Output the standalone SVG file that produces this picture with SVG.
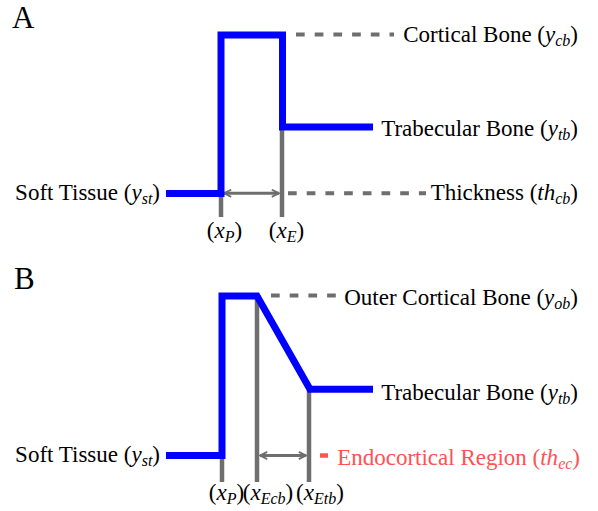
<svg xmlns="http://www.w3.org/2000/svg" width="598" height="511" viewBox="0 0 598 511">
<style>
text{font-family:"Liberation Serif","Times New Roman",serif;font-size:23px;fill:#000}
.i{font-style:italic}
.s{font-style:italic;font-size:16px}
.panel{font-size:31px}
.red{fill:#ff5252}
.blue{fill:none;stroke:#0000ff;stroke-width:7;stroke-linejoin:miter}
.gray{fill:none;stroke:#6e6e6e;stroke-width:4.5}
.dash{fill:none;stroke:#6e6e6e;stroke-width:4;stroke-dasharray:8.7 10}
.arr{fill:none;stroke:#6e6e6e;stroke-width:3}
</style>
<defs>
<marker id="ah" viewBox="0 0 10 10" refX="9" refY="5" markerWidth="3" markerHeight="3" orient="auto-start-reverse" markerUnits="strokeWidth">
<path d="M1,1 L9,5 L1,9" fill="none" stroke="#6e6e6e" stroke-width="2"/>
</marker>
</defs>
<rect width="598" height="511" fill="#fff"/>
<text class="panel" x="12" y="28">A</text>
<text class="panel" x="14" y="289">B</text>
<g id="connectors">
<line class="gray" x1="221" y1="193" x2="221" y2="217"/>
<line class="gray" x1="282" y1="127" x2="282" y2="217"/>
<line class="arr" x1="224" y1="193.3" x2="279" y2="193.3" marker-start="url(#ah)" marker-end="url(#ah)"/>
<line class="dash" x1="296" y1="34.5" x2="394" y2="34.5"/>
<line class="dash" x1="288" y1="193.3" x2="426" y2="193.3"/>
<path class="blue" d="M166,193.5 H221 V35 H282.5 V127 H373"/>
<line class="gray" x1="222" y1="455" x2="222" y2="482"/>
<line class="gray" x1="257" y1="296" x2="257" y2="482"/>
<line class="gray" x1="309" y1="389" x2="309" y2="482"/>
<line class="arr" x1="260" y1="455.5" x2="306" y2="455.5" marker-start="url(#ah)" marker-end="url(#ah)"/>
<line class="dash" x1="271" y1="295.5" x2="337" y2="295.5"/>
<line x1="320" y1="455.5" x2="328" y2="455.5" stroke="#ff5252" stroke-width="4.5"/>
<path class="blue" d="M166,455.5 H222 V296 H257 L310,389.3 H373"/>
</g>
<g id="node-cortical"><text x="578" y="42" text-anchor="end">Cortical Bone (<tspan class="i">y</tspan><tspan class="s" dy="4">cb</tspan><tspan dy="-4">)</tspan></text></g>
<g id="node-trabecular-a"><text x="578" y="136" text-anchor="end">Trabecular Bone (<tspan class="i">y</tspan><tspan class="s" dy="4">tb</tspan><tspan dy="-4">)</tspan></text></g>
<g id="node-thickness"><text x="578" y="200" text-anchor="end">Thickness (<tspan class="i">th</tspan><tspan class="s" dy="4">cb</tspan><tspan dy="-4">)</tspan></text></g>
<g id="node-soft-a"><text x="160" y="200" text-anchor="end">Soft Tissue (<tspan class="i">y</tspan><tspan class="s" dy="4">st</tspan><tspan dy="-4">)</tspan></text></g>
<g id="node-xp-a"><text x="224.5" y="238" text-anchor="middle">(<tspan class="i">x</tspan><tspan class="s" dy="4">P</tspan><tspan dy="-4">)</tspan></text></g>
<g id="node-xe-a"><text x="286.5" y="238" text-anchor="middle">(<tspan class="i">x</tspan><tspan class="s" dy="4">E</tspan><tspan dy="-4">)</tspan></text></g>
<g id="node-outer"><text x="578" y="305" text-anchor="end">Outer Cortical Bone (<tspan class="i">y</tspan><tspan class="s" dy="4">ob</tspan><tspan dy="-4">)</tspan></text></g>
<g id="node-trabecular-b"><text x="578" y="400" text-anchor="end">Trabecular Bone (<tspan class="i">y</tspan><tspan class="s" dy="4">tb</tspan><tspan dy="-4">)</tspan></text></g>
<g id="node-endocortical"><text class="red" x="580" y="465" text-anchor="end">Endocortical Region (<tspan class="i">th</tspan><tspan class="s" dy="4">ec</tspan><tspan dy="-4">)</tspan></text></g>
<g id="node-soft-b"><text x="160" y="462" text-anchor="end">Soft Tissue (<tspan class="i">y</tspan><tspan class="s" dy="4">st</tspan><tspan dy="-4">)</tspan></text></g>
<g id="node-xp-b"><text x="226.5" y="500" text-anchor="middle">(<tspan class="i">x</tspan><tspan class="s" dy="4">P</tspan><tspan dy="-4">)</tspan></text></g>
<g id="node-xecb"><text x="268" y="500" text-anchor="middle">(<tspan class="i">x</tspan><tspan class="s" dy="4">Ecb</tspan><tspan dy="-4">)</tspan></text></g>
<g id="node-xetb"><text x="320" y="500" text-anchor="middle">(<tspan class="i">x</tspan><tspan class="s" dy="4">Etb</tspan><tspan dy="-4">)</tspan></text></g>
</svg>
